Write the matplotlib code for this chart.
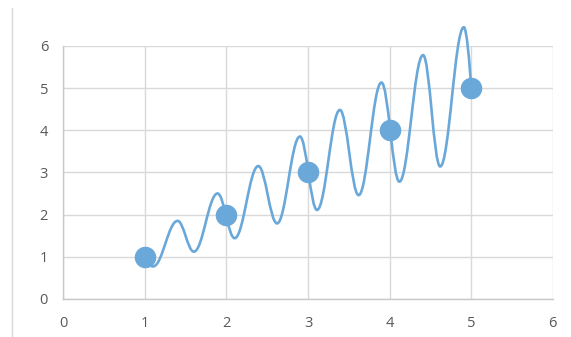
import numpy as np
import matplotlib
matplotlib.use("Agg")
from matplotlib import pyplot as plt
from matplotlib.path import Path
from matplotlib.patches import PathPatch
from matplotlib.lines import Line2D

# markers
marker_x = [1, 2, 3, 4, 5]
marker_y = [1, 2, 3, 4, 5]

# wavy line: start, turning points, end
curve_x = [1.00, 1.10, 1.40, 1.60, 1.89, 2.10, 2.39, 2.62, 2.90, 3.11, 3.39,
           3.62, 3.90, 4.12, 4.41, 4.62, 4.91, 5.00]
curve_y = [1.00, 0.77, 1.85, 1.12, 2.50, 1.44, 3.15, 1.79, 3.85, 2.11, 4.48,
           2.46, 5.13, 2.78, 5.78, 3.14, 6.44, 5.00]

blue = "#6AA8DA"
grid_col = "#D9D9D9"
text_col = "#595959"

plt.rcParams['font.family'] = ['Open Sans', 'DejaVu Sans']

fig = plt.figure(figsize=(5.71, 3.37), dpi=100)
ax = fig.add_axes([0.111, 0.113, 0.857, 0.751])

# smooth line: cubic beziers with flat tangents at turning points
k = 0.38
verts = [(curve_x[0], curve_y[0])]
codes = [Path.MOVETO]
for i in range(len(curve_x) - 1):
    x0, y0 = curve_x[i], curve_y[i]
    x1, y1 = curve_x[i + 1], curve_y[i + 1]
    w = x1 - x0
    if i == 0:
        c1 = (x0 + 0.3 * w, y0 - 0.6 * (y0 - y1))
    else:
        c1 = (x0 + k * w, y0)
    if i == len(curve_x) - 2:
        c2 = (x1 - 0.2 * w, y1 + 0.4 * (y0 - y1))
    else:
        c2 = (x1 - k * w, y1)
    verts += [c1, c2, (x1, y1)]
    codes += [Path.CURVE4] * 3
ax.add_patch(PathPatch(Path(verts, codes), facecolor="none", edgecolor=blue,
                       lw=1.9, capstyle="round", zorder=3, clip_on=False))

ax.plot(marker_x, marker_y, "o", color=blue, markersize=14.5, zorder=4,
        clip_on=False)

ax.set_xlim(0, 6)
ax.set_ylim(0, 6)
ax.set_xticks(range(7))
ax.set_yticks(range(7))
ax.grid(True, color=grid_col, lw=1.0)
ax.set_axisbelow(True)
for s in ["top", "right"]:
    ax.spines[s].set_visible(False)
for s in ["left", "bottom"]:
    ax.spines[s].set_color("#C8C8C8")
    ax.spines[s].set_linewidth(1.0)
ax.tick_params(length=0, labelcolor=text_col, labelsize=10.5)
ax.tick_params(axis="x", pad=12)
ax.tick_params(axis="y", pad=11)

fig.add_artist(Line2D([0.021, 0.021], [0.0, 0.975], color=grid_col, lw=1.0))

fig.savefig("out.png", dpi=100)
